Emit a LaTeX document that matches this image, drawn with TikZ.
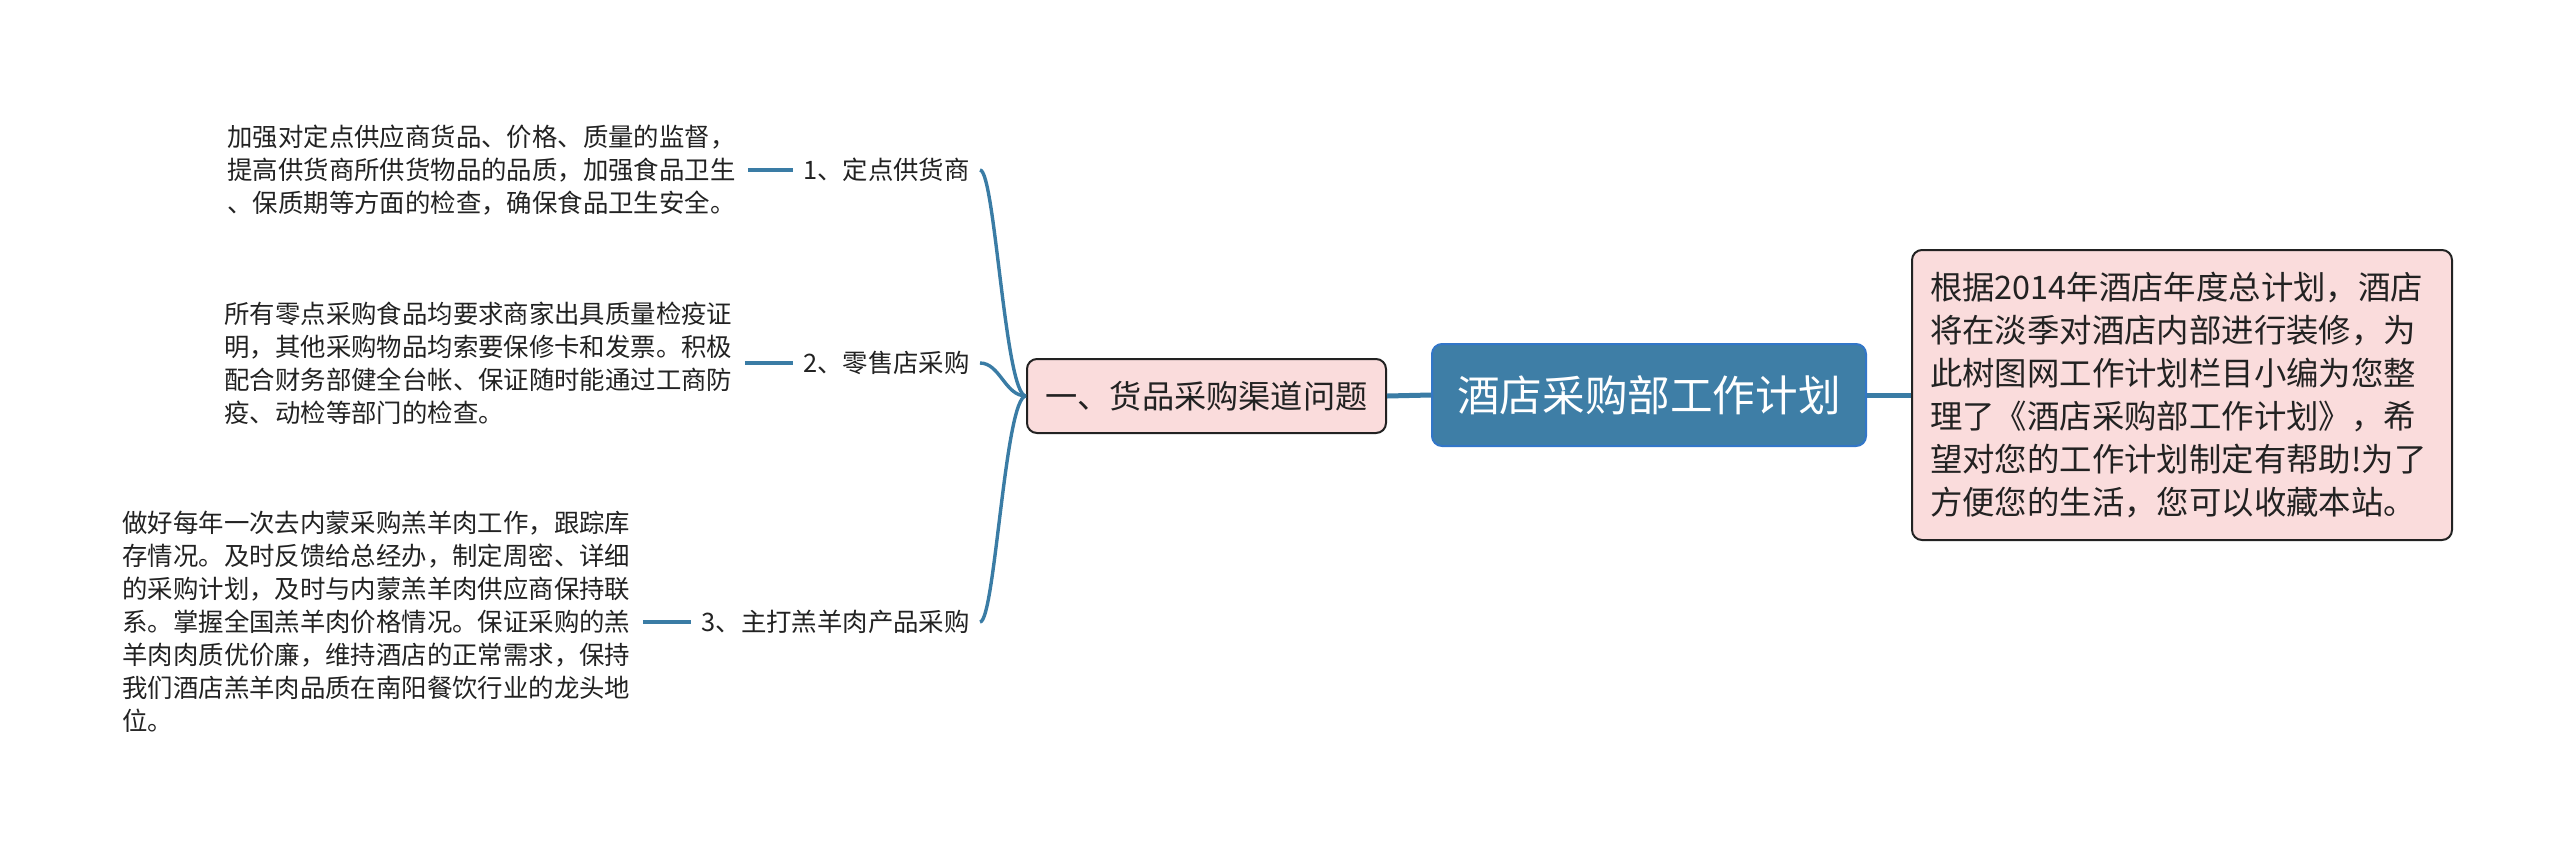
\documentclass[tikz,border=0pt]{standalone}
\usepackage{fontspec}
\setmainfont{Noto Sans CJK SC}
\definecolor{linkblue}{HTML}{3A7CA5}
\definecolor{rootfill}{HTML}{3E7EA6}
\definecolor{rootdraw}{HTML}{3276C8}
\definecolor{pinkfill}{HTML}{FADCDC}
\definecolor{txt}{HTML}{222222}
\begin{document}
\begin{tikzpicture}[x=0.5pt,y=-0.5pt,
  rootbox/.style={draw=rootdraw,line width=1pt,fill=rootfill,rounded corners=5pt,
    minimum width=217pt,minimum height=51pt,inner sep=0pt,text=white,
    font=\fontsize{21.3}{26}\selectfont},
  mainbox/.style={draw=txt,line width=1pt,fill=pinkfill,rounded corners=5pt,
    minimum width=179.5pt,minimum height=37pt,inner sep=0pt,text=txt,
    font=\fontsize{16.1}{20}\selectfont},
  notebox/.style={draw=txt,line width=1pt,fill=pinkfill,rounded corners=5pt,
    minimum width=270pt,minimum height=145pt,inner xsep=9pt,inner ysep=0pt,
    text width=252pt,align=left,text=txt,
    font=\fontsize{16.2}{21.5}\selectfont},
  subnode/.style={inner xsep=5pt,inner ysep=2pt,text=txt,
    font=\fontsize{12.7}{16.5}\selectfont},
  leafnode/.style={inner xsep=6pt,inner ysep=2pt,align=left,text=txt,
    font=\fontsize{12.7}{16.5}\selectfont},
  thicklink/.style={draw=linkblue,line width=2.5pt},
  curvelink/.style={draw=linkblue,line width=1.7pt},
  leaflink/.style={draw=linkblue,line width=2pt}
]
\useasboundingbox (0,0) rectangle (2560,857);

\node[rootbox] (root) at (1649,395) {酒店采购部工作计划};
\node[notebox] (note) at (2182,395) {根据2014年酒店年度总计划，酒店\\将在淡季对酒店内部进行装修，为\\此树图网工作计划栏目小编为您整\\理了《酒店采购部工作计划》，希\\望对您的工作计划制定有帮助!为了\\方便您的生活，您可以收藏本站。};
\node[mainbox] (main) at (1206.5,396) {一、货品采购渠道问题};

\node[subnode,anchor=east] (s1) at (980,170) {1、定点供货商};
\node[subnode,anchor=east] (s2) at (980,363) {2、零售店采购};
\node[subnode,anchor=east] (s3) at (980,622) {3、主打羔羊肉产品采购};

\node[leafnode,anchor=west] (l1) at (215,170) {加强对定点供应商货品、价格、质量的监督，\\提高供货商所供货物品的品质，加强食品卫生\\、保质期等方面的检查，确保食品卫生安全。};
\node[leafnode,anchor=west] (l2) at (212,363) {所有零点采购食品均要求商家出具质量检疫证\\明，其他采购物品均索要保修卡和发票。积极\\配合财务部健全台帐、保证随时能通过工商防\\疫、动检等部门的检查。};
\node[leafnode,anchor=west] (l3) at (110,622) {做好每年一次去内蒙采购羔羊肉工作，跟踪库\\存情况。及时反馈给总经办，制定周密、详细\\的采购计划，及时与内蒙羔羊肉供应商保持联\\系。掌握全国羔羊肉价格情况。保证采购的羔\\羊肉肉质优价廉，维持酒店的正常需求，保持\\我们酒店羔羊肉品质在南阳餐饮行业的龙头地\\位。};

\draw[thicklink] (root.east) -- (note.west);
\draw[thicklink] (main.east) -- (root.west);

\draw[curvelink] (main.west) .. controls (1005,396) and (995,170) .. (s1.east);
\draw[curvelink] (main.west) .. controls (1005,396) and (1000,363) .. (s2.east);
\draw[curvelink] (main.west) .. controls (1005,396) and (995,622) .. (s3.east);

\draw[leaflink] (l1.east) -- (s1.west);
\draw[leaflink] (l2.east) -- (s2.west);
\draw[leaflink] (l3.east) -- (s3.west);
\end{tikzpicture}
\end{document}
